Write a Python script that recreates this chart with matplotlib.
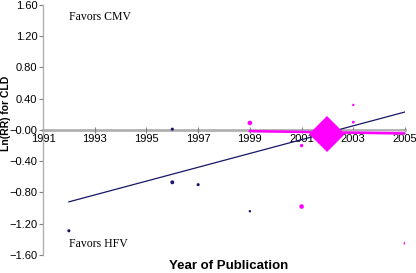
from matplotlib import pyplot as plt
from matplotlib.ticker import FuncFormatter
import numpy as np

# navy group (older studies)
navy_year = [1992, 1996, 1996, 1997, 1999]
navy_lnrr = [-1.29, 0.01, -0.67, -0.70, -1.04]
navy_weight = [1, 1, 1.6, 1, 0.6]

# magenta group (newer studies)
mag_year = [1999, 2001, 2001, 2003, 2003, 2005]
mag_lnrr = [0.09, -0.20, -0.98, 0.32, 0.10, -1.45]
mag_weight = [2.2, 1.2, 2.2, 0.6, 0.8, 0.8]

# fitted meta-regression lines
navy_fit_year = [1992, 2005]
navy_fit_lnrr = [-0.92, 0.23]
mag_fit_year = [1999, 2005]
mag_fit_lnrr = [-0.015, -0.045]

# pooled estimate
pooled_year = 2002
pooled_lnrr = -0.05

NAVY = "#161666"
MAGENTA = "#ff00ff"
GRAY = "#b0b0b0"

fig = plt.figure(figsize=(4.16, 2.73), dpi=100)
ax = fig.add_axes([0.1034, 0.066, 0.8702, 0.916])

ax.fill_between(mag_fit_year, [0, 0], mag_fit_lnrr, color="#f2b8f2",
                edgecolor=GRAY, linewidth=0.8, zorder=2)
ax.plot(mag_fit_year, mag_fit_lnrr, color=MAGENTA, linewidth=1.8, zorder=3)
ax.plot(navy_fit_year, navy_fit_lnrr, color=NAVY, linewidth=0.9, zorder=4)

ax.scatter(navy_year, navy_lnrr, s=np.array(navy_weight) * 5,
           color=NAVY, linewidths=0, zorder=5)
ax.scatter(mag_year, mag_lnrr, s=np.array(mag_weight) * 5,
           color=MAGENTA, linewidths=0, zorder=5)
ax.plot(pooled_year, pooled_lnrr, marker="D", markersize=18.5,
        color=MAGENTA, markeredgewidth=0, zorder=6)

ax.set_xlim(1991, 2005)
ax.set_ylim(-1.6, 1.6)
ax.set_xticks(np.arange(1991, 2006, 2))
ax.set_yticks(np.arange(-1.6, 1.61, 0.4))
ax.yaxis.set_major_formatter(
    FuncFormatter(lambda v, p: f"{v:.2f}".replace("-", "\u2212")))

for side in ["top", "right"]:
    ax.spines[side].set_visible(False)
ax.spines["bottom"].set_position(("data", 0))
ax.spines["bottom"].set_color(GRAY)
ax.spines["bottom"].set_linewidth(2.0)
ax.spines["bottom"].set_zorder(1)
ax.spines["left"].set_color(GRAY)
ax.spines["left"].set_linewidth(1.0)

ax.tick_params(axis="x", direction="inout", length=4, width=0.8,
               color="#808080", labelsize=8, pad=1)
ax.tick_params(axis="y", direction="out", length=3, width=0.8,
               color="#808080", labelsize=8, pad=1)
for lab in ax.get_xticklabels() + ax.get_yticklabels():
    lab.set_fontfamily("Liberation Sans")

ax.text(1992, 1.45, "Favors CMV", fontsize=8.5,
        fontfamily="Liberation Serif", va="center")
ax.text(1992, -1.46, "Favors HFV", fontsize=8.5,
        fontfamily="Liberation Serif", va="center")

fig.text(0.014, 0.586, "Ln(RR) for CLD", rotation=90, ha="center",
         va="center", fontsize=7.5, fontweight="bold",
         fontfamily="Liberation Sans")
fig.text(0.55, 0.027, "Year of Publication", ha="center", va="center",
         fontsize=9.5, fontweight="bold", fontfamily="Liberation Sans")

fig.savefig("out.png", dpi=100)
plt.close(fig)
